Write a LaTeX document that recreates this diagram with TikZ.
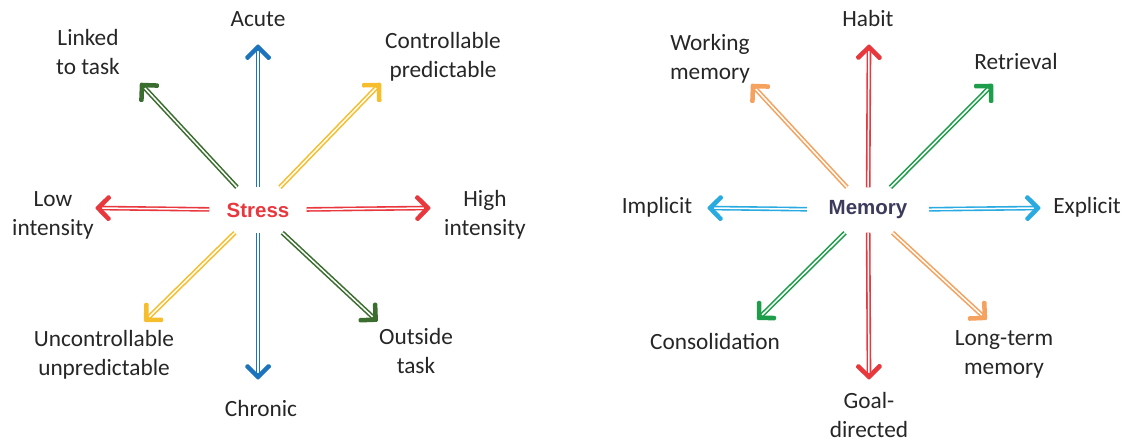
\documentclass[tikz,border=0pt]{standalone}
\usepackage{fontspec}
\setmainfont{Carlito}
\newfontfamily\hubfont{Liberation Sans}
\usetikzlibrary{decorations.markings}

\definecolor{redarr}{HTML}{E8383D}
\definecolor{bluearr}{HTML}{1C75BC}
\definecolor{skyarr}{HTML}{29ABE2}
\definecolor{darkgreen}{HTML}{3B6E2E}
\definecolor{greenarr}{HTML}{1E9E4A}
\definecolor{yellowarr}{HTML}{F6BE2C}
\definecolor{orangearr}{HTML}{F4A25E}
\definecolor{memtext}{HTML}{3C3B5C}
\definecolor{labeltext}{HTML}{262626}

\tikzset{
  chevron/.style={decoration={markings, mark=at position 1 with {
      \fill[#1, rounded corners=1.2pt] (3.2,0) -- (-10.4,13.6) -- (-13.6,10.4)
        -- (-3.2,0) -- (-13.6,-10.4) -- (-10.4,-13.6) -- cycle;}},
    postaction=decorate},
  spoke/.style={draw=#1, double=white, double distance=1.5pt,
    line width=1.6pt, shorten >=2pt, chevron=#1},
  hub/.style={inner sep=0pt, minimum width=97pt, minimum height=45pt},
  lbl/.style={align=center, text=labeltext,
    font=\fontsize{23.3}{29}\selectfont},
}

\begin{document}
\begin{tikzpicture}[x=1pt, y=-1pt]
  \useasboundingbox (0,0) rectangle (1136,444);

  % stress
  \node[hub, font=\hubfont\bfseries\fontsize{20.5}{24}\selectfont, text=redarr]
    (stress) at (258,210) {Stress};
  \coordinate (s-n)  at (258,47);
  \coordinate (s-s)  at (258,377);
  \coordinate (s-w)  at (98,208);
  \coordinate (s-e)  at (428,208);
  \coordinate (s-nw) at (142,85);
  \coordinate (s-ne) at (379,85);
  \coordinate (s-sw) at (146,320);
  \coordinate (s-se) at (376,320);

  \draw[spoke=bluearr] (stress) -- (s-n);
  \draw[spoke=bluearr] (stress) -- (s-s);
  \draw[spoke=redarr] (stress) -- (s-w);
  \draw[spoke=redarr] (stress) -- (s-e);
  \draw[spoke=darkgreen] (stress) -- (s-nw);
  \draw[spoke=darkgreen] (stress) -- (s-se);
  \draw[spoke=yellowarr] (stress) -- (s-ne);
  \draw[spoke=yellowarr] (stress) -- (s-sw);

  \node[lbl] (acute) at (258,19) {Acute};
  \node[lbl] (chronic) at (261,408) {Chronic};
  \node[lbl] (low) at (53,215) {Low\\intensity};
  \node[lbl] (high) at (485,215) {High\\intensity};
  \node[lbl] (linked) at (88,52) {Linked\\to task};
  \node[lbl] (outside) at (416,351) {Outside\\task};
  \node[lbl] (ctrl) at (443,57) {Controllable\\predictable};
  \node[lbl] (unctrl) at (104,355) {Uncontrollable\\unpredictable};

  % memory
  \node[hub, minimum width=122pt, font=\hubfont\bfseries\fontsize{20.5}{24}\selectfont,
    text=memtext] (memory) at (868,210) {Memory};
  \coordinate (m-n)  at (869,47);
  \coordinate (m-s)  at (869,377);
  \coordinate (m-w)  at (710,208);
  \coordinate (m-e)  at (1038,208);
  \coordinate (m-nw) at (753,86);
  \coordinate (m-ne) at (991,86);
  \coordinate (m-sw) at (759,318);
  \coordinate (m-se) at (985,318);

  \draw[spoke=redarr] (memory) -- (m-n);
  \draw[spoke=redarr] (memory) -- (m-s);
  \draw[spoke=skyarr] (memory) -- (m-w);
  \draw[spoke=skyarr] (memory) -- (m-e);
  \draw[spoke=orangearr] (memory) -- (m-nw);
  \draw[spoke=orangearr] (memory) -- (m-se);
  \draw[spoke=greenarr] (memory) -- (m-ne);
  \draw[spoke=greenarr] (memory) -- (m-sw);

  \node[lbl] (habit) at (868,18) {Habit};
  \node[lbl] (goal) at (869,415) {Goal-\\directed};
  \node[lbl] (implicit) at (657,207) {Implicit};
  \node[lbl] (explicit) at (1087,207) {Explicit};
  \node[lbl] (working) at (710,59) {Working\\memory};
  \node[lbl] (retrieval) at (1016,61) {Retrieval};
  \node[lbl] (consol) at (715,341) {Consolidation};
  \node[lbl] (longterm) at (1004,354) {Long-term\\memory};
\end{tikzpicture}
\end{document}
